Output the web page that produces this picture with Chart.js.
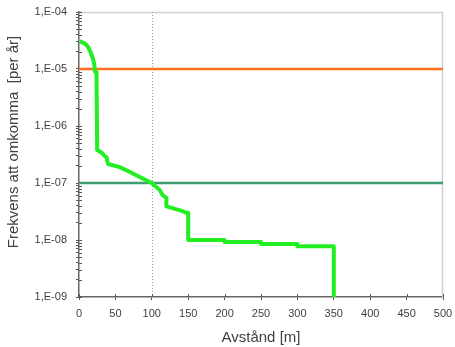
<!DOCTYPE html>
<html><head><meta charset="utf-8">
<script src="https://cdn.jsdelivr.net/npm/chart.js@4/dist/chart.umd.min.js"></script>
<style>html,body{margin:0;padding:0;background:#fff}#wrap{width:455px;height:347px}</style>
</head><body><div id="wrap"><canvas id="c"></canvas></div>
<script>
const distance = [1, 5, 8, 12, 15, 17, 19, 21, 22, 24, 25, 28, 31, 35, 38, 39, 40, 56, 70, 84, 100, 111, 115, 115, 120, 120, 139, 148, 150, 150, 200, 200, 250, 250, 300, 300, 350, 350];
const frequency = [3.1e-5, 2.9e-5, 2.8e-5, 2.5e-5, 2.1e-5, 1.8e-5, 1.55e-5, 1.2e-5, 8.9e-6, 8.9e-6, 3.8e-7, 3.6e-7, 3.4e-7, 3.0e-7, 2.8e-7, 2.4e-7, 2.15e-7, 1.9e-7, 1.56e-7, 1.26e-7, 1.0e-7, 7.5e-8, 6.1e-8, 6.1e-8, 5.5e-8, 3.9e-8, 3.3e-8, 3.0e-8, 3.0e-8, 1.0e-8, 1.0e-8, 9.2e-9, 9.2e-9, 8.5e-9, 8.5e-9, 7.8e-9, 7.8e-9, 1.0e-9];
const limitX = [0, 500];
const upperLimit = [1e-5, 1e-5];
const lowerLimit = [1e-7, 1e-7];
const xTicks = [0, 50, 100, 150, 200, 250, 300, 350, 400, 450, 500];
const yMajor = [1e-9, 1e-8, 1e-7, 1e-6, 1e-5, 1e-4];
const yLabels = ['1,E-09', '1,E-08', '1,E-07', '1,E-06', '1,E-05', '1,E-04'];
const markerX = 100;

const toPts = (xs, ys) => xs.map((x, i) => ({x, y: ys[i]}));
const yAll = [];
yMajor.forEach((m, i) => { yAll.push(m); if (i < yMajor.length - 1) for (let k = 2; k <= 9; k++) yAll.push(m * k); });

const frame = {
  id: 'frame',
  beforeDatasetsDraw(chart) {
    const {ctx, chartArea: a} = chart;
    ctx.save();
    ctx.strokeStyle = '#cfcfcf';
    ctx.lineWidth = 1.5;
    ctx.beginPath();
    ctx.moveTo(a.left, a.top + 0.5); ctx.lineTo(a.right - 0.5, a.top + 0.5); ctx.lineTo(a.right - 0.5, a.bottom);
    ctx.stroke();
    const x = Math.round(chart.scales.x.getPixelForValue(markerX)) + 0.5;
    ctx.strokeStyle = '#9a9a9a';
    ctx.lineWidth = 1;
    ctx.setLineDash([1, 2]);
    ctx.beginPath(); ctx.moveTo(x, a.top); ctx.lineTo(x, a.bottom); ctx.stroke();
    ctx.setLineDash([]);
    ctx.strokeStyle = '#555';
    ctx.lineWidth = 1;
    ctx.beginPath();
    chart.scales.y.ticks.forEach(t => {
      const y = Math.round(chart.scales.y.getPixelForValue(t.value)) + 0.5;
      ctx.moveTo(a.left, y); ctx.lineTo(a.left + 3, y);
    });
    chart.scales.x.ticks.forEach(t => {
      const x2 = Math.round(chart.scales.x.getPixelForValue(t.value)) + 0.5;
      ctx.moveTo(x2, a.bottom); ctx.lineTo(x2, a.bottom - 3);
    });
    ctx.stroke();
    ctx.restore();
  }
};

Chart.defaults.font.family = '"Liberation Sans", Arial, sans-serif';
Chart.defaults.color = '#404040';
new Chart(document.getElementById('c'), {
  type: 'line',
  data: {
    datasets: [
      {data: toPts(limitX, upperLimit), borderColor: '#ff6f1e', borderWidth: 2.5, pointRadius: 0, order: 2},
      {data: toPts(limitX, lowerLimit), borderColor: '#3f9d72', borderWidth: 2.5, pointRadius: 0, order: 3},
      {data: toPts(distance, frequency), borderColor: '#22ee22', borderWidth: 4, pointRadius: 0, borderJoinStyle: 'round', order: 1}
    ]
  },
  plugins: [frame],
  options: {
    animation: false, responsive: true, maintainAspectRatio: false,
    layout: {padding: {top: 0, right: 0, left: 4, bottom: 0}},
    plugins: {legend: {display: false}, tooltip: {enabled: false}},
    scales: {
      x: {
        type: 'linear', min: 0, max: 500,
        afterBuildTicks: s => { s.ticks = xTicks.map(v => ({value: v})); },
        afterFit: s => { s.height = 50; s.paddingRight = 12; s.paddingLeft = 0; },
        ticks: {font: {size: 11}, color: '#404040', padding: 7, maxRotation: 0},
        grid: {drawOnChartArea: false, drawTicks: true, tickLength: 3, color: '#555'},
        border: {color: '#666', width: 1.5},
        title: {display: true, text: 'Avstånd [m]', font: {size: 15}, color: '#404040', padding: {top: 4, bottom: 0}}
      },
      y: {
        type: 'logarithmic', min: 1e-9, max: 1e-4,
        afterBuildTicks: s => { s.ticks = yAll.map(v => ({value: v})); },
        afterFit: s => { s.width = 75; s.paddingTop = 12; s.paddingBottom = 0; },
        ticks: {
          font: {size: 11}, color: '#404040', padding: 9, autoSkip: false,
          callback: (v) => { const i = yMajor.findIndex(m => Math.abs(m - v) / m < 1e-6); return i >= 0 ? yLabels[i] : ''; }
        },
        grid: {drawOnChartArea: false, drawTicks: true, tickLength: 3, color: '#555'},
        border: {color: '#666', width: 1.5},
        title: {display: true, text: '      Frekvens att omkomma  [per år]', font: {size: 15}, color: '#404040', padding: {top: 1, bottom: 4}}
      }
    }
  }
});
</script></body></html>
